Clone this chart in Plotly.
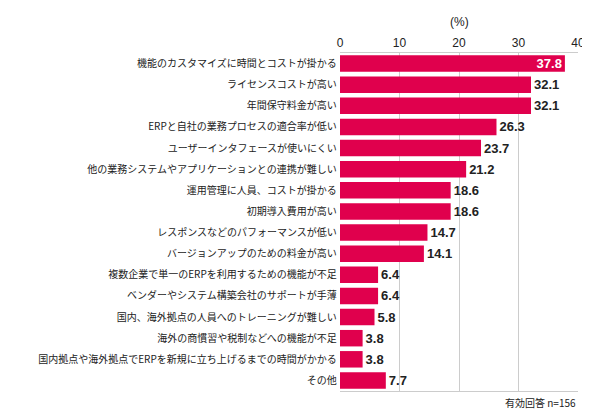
import plotly.graph_objects as go

categories = ["機能のカスタマイズに時間とコストが掛かる","ライセンスコストが高い","年間保守料金が高い",
"ERPと自社の業務プロセスの適合率が低い","ユーザーインタフェースが使いにくい",
"他の業務システムやアプリケーションとの連携が難しい","運用管理に人員、コストが掛かる","初期導入費用が高い",
"レスポンスなどのパフォーマンスが低い","バージョンアップのための料金が高い",
"複数企業で単一のERPを利用するための機能が不足","ベンダーやシステム構築会社のサポートが手薄",
"国内、海外拠点の人員へのトレーニングが難しい","海外の商慣習や税制などへの機能が不足",
"国内拠点や海外拠点でERPを新規に立ち上げるまでの時間がかかる","その他"]
values = [37.8,32.1,32.1,26.3,23.7,21.2,18.6,18.6,14.7,14.1,6.4,6.4,5.8,3.8,3.8,7.7]

color = "#E0004D"
fig = go.Figure(go.Bar(
    x=values, y=categories, orientation="h", marker=dict(color=color, line=dict(width=0)),
    width=0.78,
    text=[f"<b>{v:.1f}</b>" for v in values],
    textposition=["inside"] + ["outside"]*(len(values)-1),
    insidetextanchor="end", textangle=0, constraintext="none",
    textfont=dict(family="Liberation Sans", size=13,
                  color=["white"] + ["#222"]*(len(values)-1)),
    cliponaxis=False,
))
fig.update_layout(
    width=590, height=420, plot_bgcolor="white", paper_bgcolor="white",
    margin=dict(l=332, r=20, t=45, b=37),
    font=dict(family="Noto Sans CJK JP", size=10, color="#222"),
    showlegend=False, bargap=0.2,
    xaxis=dict(side="top", range=[0, 40], dtick=10, showgrid=True, gridcolor="#ccc",
               zeroline=False, showline=True, linecolor="#ccc", mirror=True,
               tickfont=dict(size=12, family="Liberation Sans"), ticks="", fixedrange=True,
               automargin=False),
    yaxis=dict(autorange="reversed", showline=False, ticks="", ticksuffix=" ",
               tickfont=dict(size=10, family="Noto Sans CJK JP"), automargin=False),
    annotations=[
        dict(text="(%)", x=0.5, y=1, xref="paper", yref="paper", yshift=22, showarrow=False,
             yanchor="bottom", font=dict(size=12, family="Liberation Sans")),
        dict(text="有効回答 n=156", x=1, y=0, xref="paper", yref="paper", xanchor="right",
             yanchor="top", yshift=-2, showarrow=False, font=dict(size=10)),
    ],
)
fig.write_html("out.html")
